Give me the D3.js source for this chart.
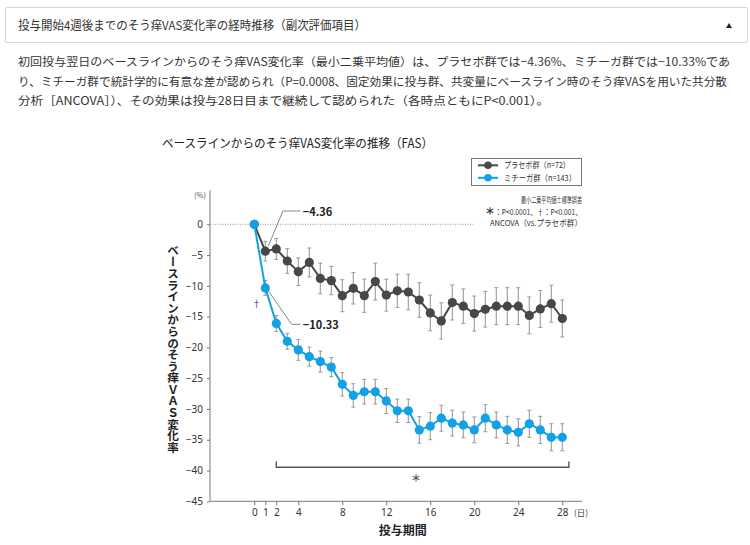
<!DOCTYPE html>
<html><head><meta charset="utf-8">
<script src="https://cdn.jsdelivr.net/npm/d3@7"></script>
<style>
html,body{margin:0;padding:0;background:#fff;}
svg{display:block;font-family:"Noto Sans CJK JP","Noto Sans",sans-serif;}
</style></head>
<body>
<svg id="c" width="750" height="545"></svg>
<script>
// ---- data ----
const days = [0,1,2,3,4,5,6,7,8,9,10,11,12,13,14,15,16,17,18,19,20,21,22,23,24,25,26,27,28];
const placebo = [0,-4.36,-4.0,-5.96,-7.7,-6.2,-8.8,-9.15,-11.6,-10.4,-11.6,-9.3,-11.5,-10.8,-11.0,-12.3,-14.4,-15.7,-12.7,-13.3,-14.5,-13.8,-13.3,-13.3,-13.3,-14.8,-13.75,-12.9,-15.3];
const placeboErr = [0,1.6,1.7,2.0,2.25,2.35,2.5,2.3,2.6,2.55,2.7,3.0,2.6,2.7,2.9,2.8,2.9,2.95,2.85,2.8,2.85,2.9,3.0,3.0,3.0,3.0,3.0,3.0,3.0];
const mitchga = [0,-10.33,-16.1,-19.0,-20.4,-21.5,-22.3,-23.2,-26.0,-27.8,-27.2,-27.2,-28.7,-30.3,-30.3,-33.4,-32.8,-31.5,-32.3,-32.6,-33.4,-31.5,-32.6,-33.4,-33.8,-32.4,-33.4,-34.6,-34.6];
const mitchgaErr = [0,1.2,1.3,1.3,1.7,1.55,1.7,1.55,1.9,1.9,2.0,2.0,2.05,1.9,1.9,2.15,2.2,2.1,2.1,2.1,2.1,2.2,2.1,2.2,2.2,2.2,2.2,2.2,2.2];
const xTicks = [0,1,2,4,8,12,16,20,24,28];
const yTicks = [0,-5,-10,-15,-20,-25,-30,-35,-40,-45];
const seriesNames = ["プラセボ群（n=72）","ミチーガ群（n=143）"];
const headerText = "投与開始4週後までのそう痒VAS変化率の経時推移（副次評価項目）";
const paragraph = [
 "初回投与翌日のベースラインからのそう痒VAS変化率（最小二乗平均値）は、プラセボ群では−4.36%、ミチーガ群では−10.33%であ",
 "り、ミチーガ群で統計学的に有意な差が認められ（P=0.0008、固定効果に投与群、共変量にベースライン時のそう痒VASを用いた共分散",
 "分析［ANCOVA］）、その効果は投与28日目まで継続して認められた（各時点ともにP<0.001）。"
];
const chartTitle = "ベースラインからのそう痒VAS変化率の推移（FAS）";
const yTitle = "ベースラインからのそう痒ＶＡＳ変化率";
const xTitle = "投与期間";
const notes = ["最小二乗平均値±標準誤差","：P<0.0001、†：P<0.001、","ANCOVA（vs.プラセボ群）"];

const colors = {placebo:"#474747", mitchga:"#12a0e6"};

const svg = d3.select("#c");

// ---- header ----
svg.append("rect").attr("x",5.5).attr("y",7.5).attr("width",742).attr("height",35)
  .attr("fill","#fff").attr("stroke","#d6d6d6").attr("rx",1);
svg.append("text").attr("x",18).attr("y",30).attr("font-size",12.2).attr("fill","#333")
  .attr("textLength",348).attr("lengthAdjust","spacingAndGlyphs").text(headerText);
svg.append("path").attr("d","M726,28 L732,28 L729,23 Z").attr("fill","#222");

const paraLen = [712,709,531];
paragraph.forEach((t,i)=>{
  svg.append("text").attr("x",18).attr("y",[65.5,85.5,104.5][i]).attr("font-size",11.4).attr("fill","#333")
    .attr("textLength",paraLen[i]).attr("lengthAdjust","spacingAndGlyphs").text(t);
});

// ---- chart ----
const x = d3.scaleLinear().domain([0,28]).range([254.3,562.3]);
const y = d3.scaleLinear().domain([0,-45]).range([224.3,501.3]);

svg.append("text").attr("x",162).attr("y",148).attr("font-size",12.5).attr("fill","#222")
  .attr("textLength",271).attr("lengthAdjust","spacingAndGlyphs").text(chartTitle);

// y axis
const gy = svg.append("g").attr("transform","translate(210,0)")
  .call(d3.axisLeft(y).tickValues(yTicks).tickSize(3).tickPadding(4).tickFormat(d=> d===0?"0":"−"+Math.abs(d)));
gy.select(".domain").remove();
gy.selectAll("line").attr("stroke","#777");
gy.selectAll("text").attr("font-size",10).attr("fill","#333").attr("font-family","Noto Sans, sans-serif");
svg.append("line").attr("x1",210).attr("x2",210).attr("y1",y(5.5)).attr("y2",y(-45)).attr("stroke","#777");
svg.append("text").attr("x",206).attr("y",198).attr("text-anchor","end").attr("font-size",7.5).attr("fill","#555").text("(%)");

// x axis
const gx = svg.append("g").attr("transform",`translate(0,${y(-45)})`)
  .call(d3.axisBottom(x).tickValues(xTicks).tickSize(4).tickPadding(4).tickFormat(d=>d));
gx.select(".domain").remove();
gx.selectAll("line").attr("stroke","#777");
gx.selectAll("text").attr("font-size",10).attr("fill","#333").attr("font-family","Noto Sans, sans-serif");
svg.append("line").attr("x1",x(-4)).attr("x2",x(29.8)).attr("y1",y(-45)).attr("y2",y(-45)).attr("stroke","#777");
svg.append("text").attr("x",x(29.7)).attr("y",516).attr("text-anchor","middle").attr("font-size",8.5).attr("fill","#444").text("(日)");

// zero dotted line
svg.append("line").attr("x1",210).attr("x2",x(19.9)).attr("y1",y(0)).attr("y2",y(0))
  .attr("stroke","#999").attr("stroke-dasharray","1,1.5");

// titles
svg.append("text").attr("x",x(13.5)).attr("y",535).attr("text-anchor","middle").attr("font-size",12)
  .attr("font-weight","bold").attr("fill","#222").text(xTitle);
svg.append("text").attr("x",173).attr("y",349).attr("text-anchor","middle").attr("font-size",11.6)
  .attr("font-weight","bold").attr("fill","#222")
  .style("writing-mode","vertical-rl").style("text-orientation","upright").text(yTitle);

// series
function drawSeries(vals, errs, color){
  const g = svg.append("g");
  const pts = days.map((d,i)=>({d, v:vals[i], e:errs[i]}));
  const eb = g.selectAll(".eb").data(pts.filter(p=>p.e>0)).enter().append("g");
  eb.append("line").attr("x1",p=>x(p.d)).attr("x2",p=>x(p.d)).attr("y1",p=>y(p.v+p.e)).attr("y2",p=>y(p.v-p.e))
    .attr("stroke","#9a9a9a").attr("stroke-width",1.1);
  [1,-1].forEach(s=>{
    eb.append("line").attr("x1",p=>x(p.d)-2).attr("x2",p=>x(p.d)+2)
      .attr("y1",p=>y(p.v+s*p.e)).attr("y2",p=>y(p.v+s*p.e)).attr("stroke","#9a9a9a").attr("stroke-width",1);
  });
  g.append("path").datum(pts).attr("fill","none").attr("stroke",color).attr("stroke-width",2)
    .attr("d",d3.line().x(p=>x(p.d)).y(p=>y(p.v)));
  g.selectAll("circle").data(pts).enter().append("circle")
    .attr("cx",p=>x(p.d)).attr("cy",p=>y(p.v)).attr("r",4.6).attr("fill",color);
}
drawSeries(placebo, placeboErr, colors.placebo);
drawSeries(mitchga, mitchgaErr, colors.mitchga);

// annotations
const a1 = [x(1)+3, y(placebo[1])-5];
svg.append("path").attr("d",`M${a1[0]},${a1[1]} L${x(2.6)},211 L${x(4.2)},211`).attr("fill","none").attr("stroke","#888");
svg.append("text").attr("x",x(4.4)).attr("y",215.5).attr("font-size",11).attr("font-weight","bold").attr("fill","#222").text("−"+Math.abs(placebo[1]).toFixed(2));
const a2 = [x(1)+3, y(mitchga[1])+3];
svg.append("path").attr("d",`M${a2[0]},${a2[1]} L${x(3.4)},324.3 L${x(4.2)},324.3`).attr("fill","none").attr("stroke","#888");
svg.append("text").attr("x",x(4.4)).attr("y",328.5).attr("font-size",11).attr("font-weight","bold").attr("fill","#222").text("−"+Math.abs(mitchga[1]).toFixed(2));
svg.append("text").attr("x",x(0.2)).attr("y",306.5).attr("text-anchor","middle").attr("font-size",9).attr("fill","#444").text("†");

// bracket
svg.append("path").attr("d",`M${x(2)},461.5 L${x(2)},467.3 L${x(28.6)},467.3 L${x(28.6)},461.5`)
  .attr("fill","none").attr("stroke","#555").attr("stroke-width",1.4);
svg.append("text").attr("x",x(14.7)).attr("y",482).attr("text-anchor","middle").attr("font-size",10).attr("font-weight","bold").attr("fill","#555").text("＊");

// legend
svg.append("rect").attr("x",471.5).attr("y",158.5).attr("width",110).attr("height",27).attr("fill","#fff").attr("stroke","#777");
[[colors.placebo,165.3],[colors.mitchga,177.8]].forEach(([c,ly],i)=>{
  svg.append("line").attr("x1",478).attr("x2",498).attr("y1",ly).attr("y2",ly).attr("stroke",c).attr("stroke-width",2);
  svg.append("circle").attr("cx",488).attr("cy",ly).attr("r",3.8).attr("fill",c);
  svg.append("text").attr("x",504).attr("y",ly+3).attr("font-size",8.3).attr("fill","#333")
    .attr("textLength",[66,72][i]).attr("lengthAdjust","spacingAndGlyphs").text(seriesNames[i]);
});

// notes
svg.append("text").attr("x",521).attr("y",203).attr("font-size",7.8).attr("fill","#333")
  .attr("textLength",61).attr("lengthAdjust","spacingAndGlyphs").text(notes[0]);
svg.append("text").attr("x",485).attr("y",215).attr("font-size",10).attr("font-weight","bold").attr("fill","#333").text("＊");
svg.append("text").attr("x",495).attr("y",215).attr("font-size",8.2).attr("fill","#333")
  .attr("textLength",87).attr("lengthAdjust","spacingAndGlyphs").text(notes[1]);
svg.append("text").attr("x",490).attr("y",226).attr("font-size",8.2).attr("fill","#333")
  .attr("textLength",92).attr("lengthAdjust","spacingAndGlyphs").text(notes[2]);
</script>
</body></html>
